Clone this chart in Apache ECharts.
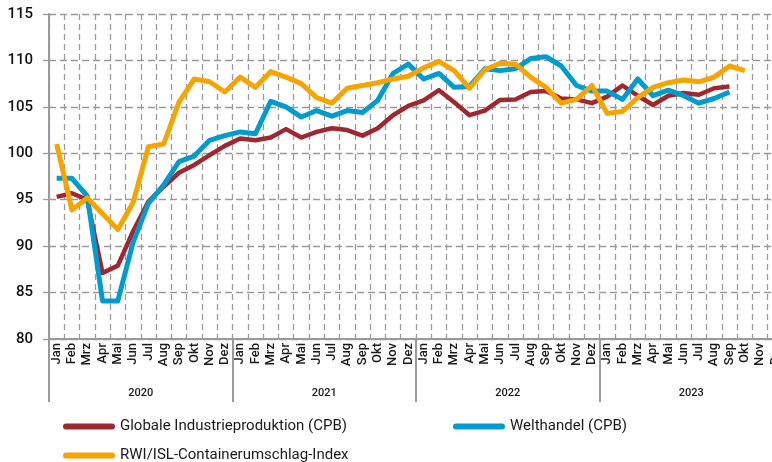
<!DOCTYPE html>
<html>
<head>
<meta charset="utf-8">
<style>html,body{margin:0;padding:0;background:#fff;overflow:hidden;width:772px;height:462px}#c{width:800px;height:462px}</style>
<script src="https://cdn.jsdelivr.net/npm/echarts@6/dist/echarts.min.js"></script>
</head>
<body>
<div id="c"></div>
<script>
const months = ['Jan','Feb','Mrz','Apr','Mai','Jun','Jul','Aug','Sep','Okt','Nov','Dez'];
const years = ['2020','2021','2022','2023'];
const categories = [];
years.forEach(function(){ months.forEach(function(m){ categories.push(m); }); });

const industrie = [
  95.3, 95.7, 95.0, 87.1, 87.9, 91.6, 94.8, 96.4, 97.9, 98.75, 99.8, 100.8,
  101.6, 101.4, 101.7, 102.6, 101.7, 102.3, 102.7, 102.5, 101.9, 102.7, 104.1, 105.1,
  105.7, 106.8, 105.5, 104.1, 104.6, 105.75, 105.8, 106.6, 106.7, 105.9, 105.8, 105.4,
  106.1, 107.3, 106.2, 105.2, 106.2, 106.5, 106.3, 107.0, 107.2, null, null, null
];
const welthandel = [
  97.3, 97.3, 95.4, 84.1, 84.1, 90.4, 94.6, 96.6, 99.1, 99.7, 101.4, 101.9,
  102.3, 102.1, 105.6, 105.0, 103.9, 104.6, 104.0, 104.6, 104.4, 105.7, 108.6, 109.6,
  108.0, 108.6, 107.1, 107.2, 109.1, 108.9, 109.1, 110.2, 110.4, 109.4, 107.3, 106.7,
  106.7, 105.8, 108.0, 106.2, 106.8, 106.2, 105.4, 105.9, 106.6, null, null, null
];
const container = [
  101.0, 93.9, 95.2, 93.5, 91.8, 94.7, 100.7, 101.0, 105.5, 108.0, 107.7, 106.6,
  108.2, 107.1, 108.8, 108.2, 107.5, 106.0, 105.4, 107.0, 107.3, 107.6, 108.0, 108.3,
  109.2, 109.9, 108.9, 107.0, 109.0, 109.7, 109.6, 108.2, 107.1, 105.4, 105.8, 107.3,
  104.3, 104.5, 106.0, 107.1, 107.6, 107.9, 107.7, 108.2, 109.4, 108.9, null, null
];
const yTicks = {min: 80, max: 115, interval: 5};
const names = ['Globale Industrieproduktion (CPB)', 'Welthandel (CPB)', 'RWI/ISL-Containerumschlag-Index'];
const colors = ['#a0262f', '#009cd0', '#f7a400'];

const FONT = 'Roboto';
const grey = '#9a9a9a';
const legendIcon = 'path://M3,0 H49 A3,3 0 0 1 49,6 H3 A3,3 0 0 1 3,0 Z';
function legend(name, left, top) {
  return {
    data: [name], left: left, top: top, orient: 'horizontal',
    icon: legendIcon, itemWidth: 52, itemHeight: 6, itemGap: 6,
    textStyle: {fontFamily: FONT, fontSize: 15, color: '#1a1a1a'},
    selectedMode: false
  };
}

const chart = echarts.init(document.getElementById('c'), null, {renderer: 'canvas'});
chart.setOption({
  animation: false,
  backgroundColor: '#fff',
  grid: {left: 49, top: 14, width: 734, height: 325, containLabel: false},
  legend: [
    legend(names[0], 58, 414),
    legend(names[1], 448, 414),
    legend(names[2], 58, 443)
  ],
  xAxis: [{
    type: 'category', data: categories, boundaryGap: true, position: 'bottom',
    axisLine: {show: true, lineStyle: {color: grey, width: 2}},
    axisTick: {show: false},
    axisLabel: {rotate: 90, interval: 0, fontFamily: FONT, fontSize: 13, fontWeight: 500, color: '#1a1a1a', margin: 4},
    splitLine: {show: true, interval: 0, lineStyle: {color: grey, width: 1.3, type: [6, 4]}}
  }, {
    type: 'category', data: years, boundaryGap: true, position: 'bottom',
    axisLine: {show: false},
    axisTick: {show: true, length: 63, interval: 0, lineStyle: {color: grey, width: 2}},
    axisLabel: {interval: 0, fontFamily: FONT, fontSize: 11, fontWeight: 500, color: '#1a1a1a', margin: 49},
    splitLine: {show: false}
  }],
  yAxis: {
    type: 'value', min: yTicks.min, max: yTicks.max, interval: yTicks.interval,
    axisLine: {show: true, lineStyle: {color: grey, width: 2}},
    axisTick: {show: true, length: 6, lineStyle: {color: grey, width: 1.3}},
    axisLabel: {fontFamily: FONT, fontSize: 15, fontWeight: 500, color: '#111', margin: 16},
    splitLine: {show: true, lineStyle: {color: grey, width: 1.3, type: [7, 4]}}
  },
  series: [
    {name: names[0], type: 'line', data: industrie, symbol: 'none', color: colors[0],
     lineStyle: {width: 4.5, color: colors[0], join: 'round'}, z: 2},
    {name: names[1], type: 'line', data: welthandel, symbol: 'none', color: colors[1],
     lineStyle: {width: 5, color: colors[1], join: 'round'}, z: 3},
    {name: names[2], type: 'line', data: container, symbol: 'none', color: colors[2],
     lineStyle: {width: 5, color: colors[2], join: 'round'}, z: 4}
  ]
});
</script>
</body>
</html>
